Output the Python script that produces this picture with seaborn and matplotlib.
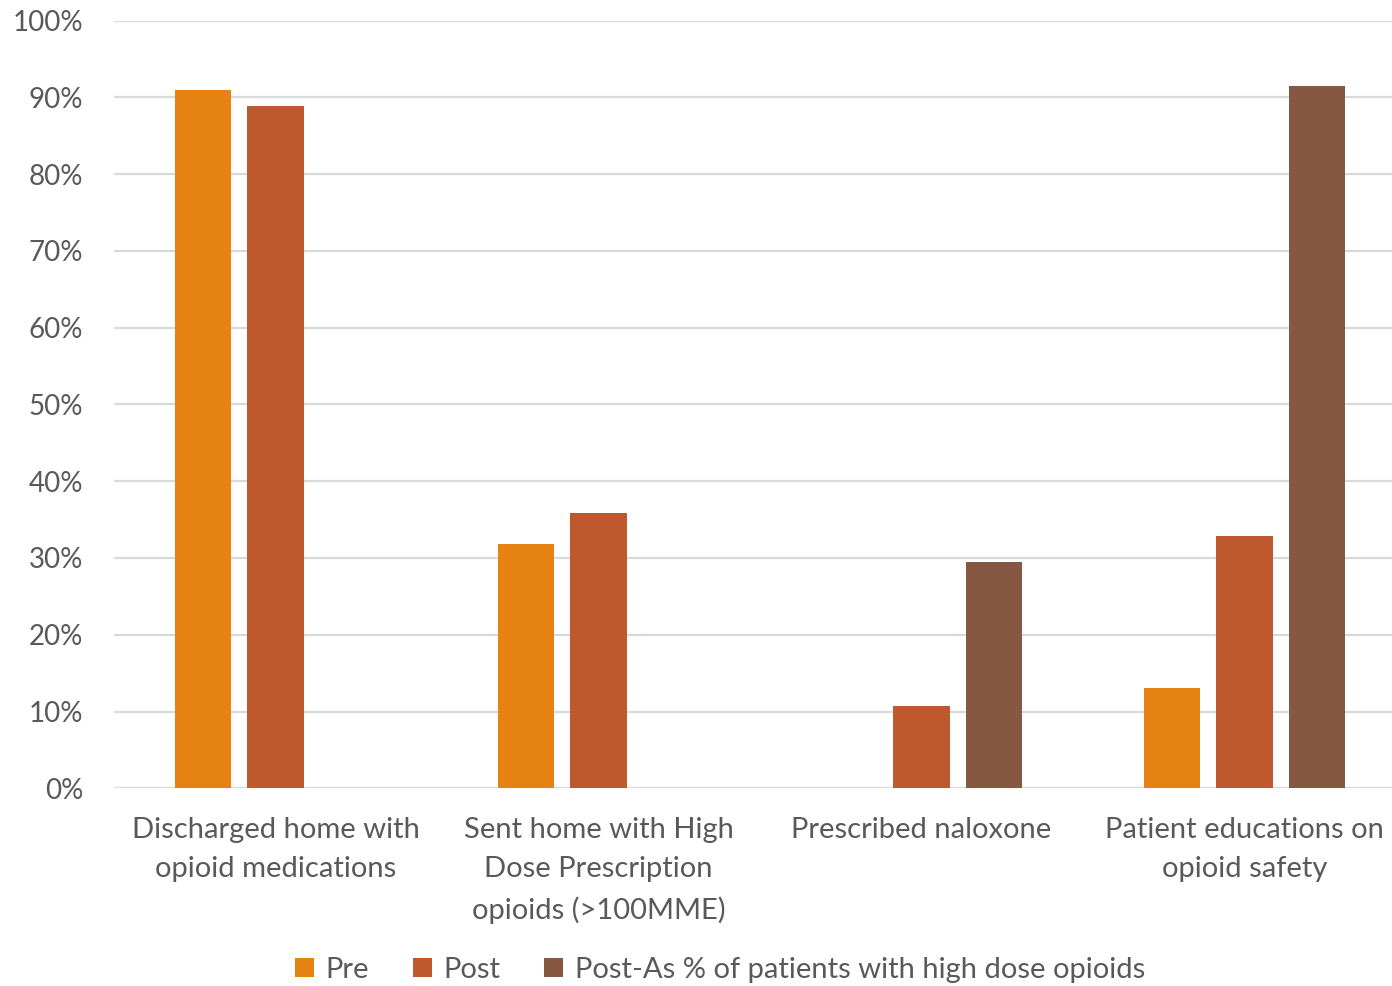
import matplotlib
matplotlib.use("Agg")
import matplotlib.pyplot as plt
from matplotlib.patches import Patch
from matplotlib.ticker import PercentFormatter
import pandas as pd
import seaborn as sns

categories = [
    "Discharged home with\nopioid medications",
    "Sent home with High\nDose Prescription\nopioids (>100MME)",
    "Prescribed naloxone",
    "Patient educations on\nopioid safety",
]
series = ["Pre", "Post", "Post-As % of patients with high dose opioids"]
pre = [91.0, 31.8, 0.0, 13.0]
post = [88.9, 35.9, 10.7, 32.8]
post_as = [0.0, 0.0, 29.5, 91.5]
colors = ["#E58212", "#BD592C", "#865741"]
yticks = [0, 10, 20, 30, 40, 50, 60, 70, 80, 90, 100]

rows = []
for name, vals in zip(series, [pre, post, post_as]):
    for cat, v in zip(categories, vals):
        rows.append({"category": cat, "series": name, "value": v})
df = pd.DataFrame(rows)

sns.set_theme(style="white")
plt.rcParams["font.family"] = ["Lato", "DejaVu Sans"]
text_color = "#595959"

fig = plt.figure(figsize=(13.92, 9.86), dpi=100)
ax = fig.add_axes([114 / 1392, 1 - 788.3 / 986, 1292 / 1392, (788.3 - 20.6) / 986])

sns.barplot(data=df, x="category", y="value", hue="series", hue_order=series,
            palette=colors, width=0.669, gap=0.222, ax=ax, legend=False,
            saturation=1, linewidth=0)

ax.set_xlim(-0.5, 3.5)
ax.set_ylim(0, 100)
ax.set_yticks(yticks)
ax.yaxis.set_major_formatter(PercentFormatter(decimals=0))
ax.grid(axis="y", color="#D9D9D9", linewidth=1.6)
ax.set_axisbelow(True)
for s in ax.spines.values():
    s.set_visible(False)
ax.set_xlabel("")
ax.set_ylabel("")
ax.tick_params(axis="y", length=0, pad=22, labelsize=20, labelcolor=text_color)
ax.tick_params(axis="x", length=0, pad=21, labelsize=21, labelcolor=text_color)
for lab in ax.get_xticklabels():
    lab.set_linespacing(1.62)
    lab.set_clip_on(False)

handles = [Patch(facecolor=c, edgecolor="none") for c in colors]
fig.legend(handles, series, loc="center", bbox_to_anchor=(720 / 1392, 1 - 970 / 986),
           ncol=3, frameon=False, fontsize=21, labelcolor=text_color,
           handlelength=0.65, handleheight=0.65, handletextpad=0.4,
           columnspacing=1.5)

fig.savefig("out.png", dpi=100)
